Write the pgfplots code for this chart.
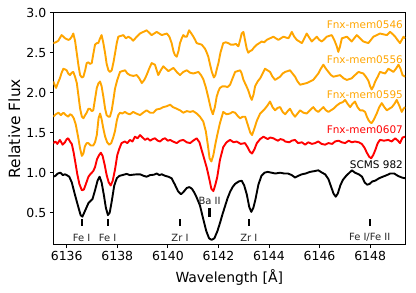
\documentclass[border=0pt]{standalone}
\usepackage{pgfplots}
\pgfplotsset{compat=1.18}
\usepackage{fontspec}
\setmainfont{DejaVu Sans}
\definecolor{mplorange}{HTML}{FFA500}
\definecolor{mplred}{HTML}{FF0000}
\begin{document}
\begin{tikzpicture}
\useasboundingbox (-53.3bp,-48.3bp) rectangle (362.7bp,244.7bp);
\begin{axis}[
  at={(0,0)}, anchor=south west,
  scale only axis, width=352bp, height=232bp,
  xmin=6135.47, xmax=6149.39, ymin=0.1, ymax=3.0,
  xtick={6136,6138,6140,6142,6144,6146,6148},
  ytick={0.5,1,1.5,2,2.5,3},
  tick pos=left, tick align=outside,
  major tick length=3.5bp,
  axis line style={black, line width=0.8bp},
  tick style={black, line width=0.8bp},
  /pgf/number format/assume math mode=true,
  yticklabel style={/pgf/number format/fixed,/pgf/number format/fixed zerofill,/pgf/number format/precision=1},
  xticklabel style={/pgf/number format/1000 sep={}},
  ticklabel style={font=\fontsize{12.5}{14}\selectfont},
  xlabel={Wavelength [Å]}, ylabel={Relative Flux},
  xlabel style={font=\fontsize{14}{16}\selectfont, at={(axis description cs:0.5,-0.1397)}, anchor=center},
  ylabel style={font=\fontsize{15.5}{17}\selectfont, at={(axis description cs:-0.1108,0.5)}, anchor=center},
  every axis plot/.append style={line width=1.9bp, line join=round},
]
% Fnx-mem0546
\addplot[mplorange] coordinates {(6135.47,2.62) (6135.57,2.63) (6135.67,2.65) (6135.74,2.69) (6135.80,2.72) (6135.87,2.70) (6135.94,2.68) (6136.00,2.67) (6136.07,2.66) (6136.13,2.67) (6136.20,2.70) (6136.26,2.74) (6136.33,2.65) (6136.40,2.49) (6136.47,2.33) (6136.53,2.22) (6136.60,2.19) (6136.66,2.20) (6136.73,2.28) (6136.79,2.37) (6136.86,2.38) (6136.92,2.36) (6136.99,2.37) (6137.05,2.48) (6137.12,2.60) (6137.19,2.62) (6137.25,2.62) (6137.32,2.68) (6137.38,2.72) (6137.45,2.62) (6137.52,2.49) (6137.58,2.36) (6137.65,2.28) (6137.71,2.26) (6137.78,2.28) (6137.85,2.38) (6137.91,2.49) (6137.98,2.62) (6138.04,2.70) (6138.14,2.71) (6138.24,2.72) (6138.34,2.68) (6138.44,2.70) (6138.54,2.68) (6138.63,2.65) (6138.77,2.70) (6138.90,2.74) (6139.03,2.76) (6139.16,2.78) (6139.26,2.75) (6139.36,2.72) (6139.46,2.74) (6139.56,2.76) (6139.66,2.74) (6139.76,2.72) (6139.86,2.73) (6139.96,2.74) (6140.06,2.70) (6140.15,2.62) (6140.22,2.52) (6140.28,2.47) (6140.35,2.45) (6140.42,2.52) (6140.48,2.62) (6140.55,2.68) (6140.61,2.72) (6140.68,2.70) (6140.75,2.70) (6140.84,2.78) (6140.93,2.74) (6141.01,2.70) (6141.08,2.66) (6141.14,2.62) (6141.24,2.61) (6141.34,2.60) (6141.47,2.55) (6141.54,2.50) (6141.60,2.45) (6141.67,2.35) (6141.74,2.26) (6141.82,2.19) (6141.88,2.22) (6141.94,2.30) (6142.00,2.37) (6142.08,2.50) (6142.19,2.62) (6142.29,2.63) (6142.39,2.62) (6142.49,2.60) (6142.59,2.60) (6142.69,2.61) (6142.79,2.58) (6142.86,2.66) (6142.92,2.74) (6142.99,2.76) (6143.05,2.66) (6143.12,2.55) (6143.18,2.50) (6143.25,2.52) (6143.32,2.53) (6143.42,2.57) (6143.52,2.60) (6143.62,2.62) (6143.71,2.64) (6143.81,2.63) (6143.91,2.66) (6144.04,2.68) (6144.17,2.70) (6144.27,2.68) (6144.37,2.66) (6144.47,2.68) (6144.57,2.70) (6144.67,2.69) (6144.77,2.68) (6144.84,2.72) (6144.90,2.76) (6145.00,2.70) (6145.10,2.66) (6145.20,2.64) (6145.30,2.62) (6145.40,2.68) (6145.49,2.74) (6145.59,2.69) (6145.69,2.64) (6145.79,2.67) (6145.89,2.70) (6145.99,2.66) (6146.09,2.64) (6146.19,2.67) (6146.28,2.70) (6146.38,2.71) (6146.48,2.72) (6146.58,2.66) (6146.68,2.58) (6146.74,2.51) (6146.81,2.58) (6146.88,2.68) (6146.98,2.69) (6147.08,2.70) (6147.18,2.67) (6147.27,2.64) (6147.37,2.68) (6147.47,2.72) (6147.60,2.68) (6147.73,2.64) (6147.83,2.63) (6147.93,2.62) (6148.03,2.66) (6148.13,2.70) (6148.26,2.72) (6148.39,2.74) (6148.52,2.73) (6148.66,2.72) (6148.79,2.76) (6148.90,2.73) (6148.99,2.70) (6149.08,2.66) (6149.18,2.62) (6149.25,2.66) (6149.32,2.70) (6149.38,2.68)};
% Fnx-mem0556
\addplot[mplorange] coordinates {(6135.47,2.14) (6135.52,2.10) (6135.58,2.06) (6135.65,2.12) (6135.73,2.18) (6135.80,2.25) (6135.87,2.30) (6135.94,2.29) (6136.00,2.28) (6136.06,2.24) (6136.13,2.22) (6136.20,2.25) (6136.26,2.26) (6136.33,2.20) (6136.40,2.12) (6136.47,1.95) (6136.53,1.80) (6136.60,1.70) (6136.66,1.68) (6136.73,1.72) (6136.79,1.75) (6136.86,1.80) (6136.92,1.80) (6136.99,1.77) (6137.05,1.78) (6137.12,1.92) (6137.19,2.06) (6137.26,2.12) (6137.32,2.14) (6137.38,2.08) (6137.45,1.95) (6137.52,1.80) (6137.58,1.72) (6137.65,1.70) (6137.71,1.70) (6137.78,1.78) (6137.85,1.92) (6137.91,2.05) (6138.00,2.16) (6138.11,2.26) (6138.20,2.27) (6138.31,2.28) (6138.40,2.24) (6138.50,2.22) (6138.63,2.21) (6138.77,2.22) (6138.87,2.18) (6138.97,2.12) (6139.07,2.16) (6139.16,2.22) (6139.26,2.30) (6139.36,2.37) (6139.49,2.35) (6139.56,2.28) (6139.62,2.22) (6139.72,2.28) (6139.82,2.33) (6139.92,2.30) (6140.02,2.27) (6140.12,2.29) (6140.22,2.31) (6140.35,2.26) (6140.48,2.22) (6140.61,2.26) (6140.75,2.28) (6140.88,2.25) (6141.01,2.24) (6141.11,2.25) (6141.21,2.26) (6141.31,2.22) (6141.40,2.17) (6141.50,2.07) (6141.60,1.94) (6141.70,1.80) (6141.78,1.73) (6141.86,1.82) (6141.93,1.95) (6142.00,2.02) (6142.06,2.06) (6142.16,2.08) (6142.26,2.08) (6142.36,2.07) (6142.46,2.10) (6142.56,2.18) (6142.66,2.26) (6142.76,2.27) (6142.86,2.28) (6142.92,2.24) (6142.99,2.16) (6143.08,2.10) (6143.18,2.03) (6143.26,1.95) (6143.32,1.91) (6143.39,1.98) (6143.45,2.08) (6143.55,2.14) (6143.65,2.18) (6143.75,2.24) (6143.84,2.30) (6143.94,2.28) (6144.04,2.26) (6144.14,2.20) (6144.24,2.16) (6144.34,2.18) (6144.44,2.20) (6144.54,2.24) (6144.64,2.26) (6144.74,2.27) (6144.83,2.28) (6144.93,2.24) (6145.03,2.20) (6145.13,2.14) (6145.23,2.10) (6145.36,2.11) (6145.49,2.12) (6145.62,2.14) (6145.75,2.16) (6145.85,2.20) (6145.95,2.24) (6146.05,2.30) (6146.15,2.35) (6146.25,2.30) (6146.35,2.26) (6146.45,2.22) (6146.55,2.20) (6146.68,2.21) (6146.81,2.22) (6146.95,2.18) (6147.08,2.16) (6147.18,2.17) (6147.27,2.18) (6147.40,2.22) (6147.54,2.26) (6147.63,2.25) (6147.73,2.24) (6147.83,2.20) (6147.93,2.15) (6148.00,2.08) (6148.06,2.04) (6148.13,2.08) (6148.20,2.14) (6148.30,2.20) (6148.39,2.26) (6148.49,2.25) (6148.59,2.24) (6148.66,2.27) (6148.72,2.30) (6148.82,2.28) (6148.92,2.26) (6149.02,2.30) (6149.12,2.35) (6149.20,2.30) (6149.28,2.22) (6149.38,2.20)};
% Fnx-mem0595
\addplot[mplorange] coordinates {(6135.47,1.70) (6135.57,1.73) (6135.67,1.75) (6135.77,1.72) (6135.87,1.75) (6135.97,1.72) (6136.06,1.70) (6136.13,1.73) (6136.20,1.72) (6136.28,1.68) (6136.36,1.60) (6136.45,1.45) (6136.53,1.30) (6136.60,1.21) (6136.66,1.24) (6136.72,1.33) (6136.79,1.37) (6136.86,1.37) (6136.95,1.34) (6137.05,1.34) (6137.12,1.38) (6137.19,1.47) (6137.26,1.68) (6137.32,1.74) (6137.38,1.67) (6137.45,1.55) (6137.52,1.45) (6137.60,1.38) (6137.68,1.35) (6137.76,1.37) (6137.84,1.44) (6137.91,1.52) (6137.98,1.65) (6138.04,1.72) (6138.11,1.75) (6138.20,1.74) (6138.30,1.76) (6138.40,1.74) (6138.50,1.73) (6138.63,1.76) (6138.75,1.74) (6138.90,1.72) (6139.02,1.75) (6139.16,1.78) (6139.30,1.75) (6139.43,1.75) (6139.55,1.79) (6139.70,1.80) (6139.82,1.82) (6139.95,1.83) (6140.09,1.85) (6140.20,1.82) (6140.35,1.80) (6140.48,1.78) (6140.61,1.75) (6140.75,1.77) (6140.88,1.76) (6141.00,1.77) (6141.14,1.74) (6141.27,1.70) (6141.40,1.64) (6141.50,1.52) (6141.58,1.35) (6141.65,1.18) (6141.72,1.14) (6141.80,1.22) (6141.88,1.36) (6141.96,1.48) (6142.06,1.62) (6142.19,1.76) (6142.32,1.73) (6142.46,1.74) (6142.56,1.76) (6142.66,1.75) (6142.76,1.71) (6142.86,1.68) (6142.96,1.70) (6143.06,1.70) (6143.16,1.60) (6143.26,1.50) (6143.33,1.47) (6143.42,1.55) (6143.52,1.65) (6143.65,1.74) (6143.75,1.77) (6143.84,1.80) (6143.94,1.84) (6144.04,1.89) (6144.14,1.82) (6144.24,1.78) (6144.34,1.81) (6144.44,1.82) (6144.54,1.76) (6144.64,1.73) (6144.74,1.77) (6144.83,1.80) (6144.93,1.74) (6145.03,1.70) (6145.13,1.74) (6145.23,1.78) (6145.36,1.75) (6145.49,1.74) (6145.62,1.78) (6145.75,1.82) (6145.85,1.78) (6145.95,1.76) (6146.05,1.79) (6146.15,1.82) (6146.25,1.78) (6146.35,1.76) (6146.45,1.78) (6146.55,1.80) (6146.68,1.84) (6146.81,1.87) (6146.91,1.88) (6147.01,1.91) (6147.11,1.86) (6147.21,1.82) (6147.30,1.86) (6147.40,1.89) (6147.50,1.82) (6147.60,1.78) (6147.70,1.78) (6147.80,1.76) (6147.87,1.70) (6147.93,1.66) (6148.00,1.63) (6148.06,1.62) (6148.14,1.66) (6148.26,1.74) (6148.36,1.82) (6148.46,1.87) (6148.56,1.82) (6148.66,1.78) (6148.76,1.80) (6148.86,1.82) (6148.96,1.86) (6149.05,1.91) (6149.15,1.84) (6149.25,1.76) (6149.32,1.80) (6149.38,1.82)};
% Fnx-mem0607
\addplot[mplred] coordinates {(6135.47,1.37) (6135.55,1.39) (6135.63,1.36) (6135.73,1.41) (6135.84,1.35) (6135.93,1.38) (6136.00,1.42) (6136.06,1.43) (6136.13,1.39) (6136.20,1.36) (6136.27,1.26) (6136.33,1.15) (6136.42,0.98) (6136.50,0.86) (6136.60,0.78) (6136.68,0.79) (6136.76,0.86) (6136.86,0.95) (6136.93,0.98) (6136.99,1.00) (6137.05,1.02) (6137.12,1.07) (6137.20,1.17) (6137.28,1.22) (6137.35,1.25) (6137.42,1.21) (6137.50,1.10) (6137.58,0.97) (6137.66,0.88) (6137.74,0.84) (6137.82,0.90) (6137.91,1.04) (6138.00,1.22) (6138.08,1.30) (6138.17,1.37) (6138.30,1.39) (6138.40,1.37) (6138.50,1.41) (6138.60,1.39) (6138.70,1.45) (6138.80,1.43) (6138.90,1.47) (6139.00,1.44) (6139.10,1.41) (6139.20,1.43) (6139.30,1.40) (6139.40,1.42) (6139.49,1.43) (6139.60,1.40) (6139.69,1.39) (6139.80,1.42) (6139.89,1.43) (6140.00,1.40) (6140.09,1.41) (6140.20,1.39) (6140.35,1.37) (6140.48,1.40) (6140.61,1.41) (6140.75,1.38) (6140.88,1.37) (6141.00,1.40) (6141.14,1.43) (6141.25,1.38) (6141.34,1.28) (6141.45,1.16) (6141.54,1.06) (6141.64,0.92) (6141.72,0.80) (6141.80,0.77) (6141.87,0.84) (6141.95,0.94) (6142.06,1.16) (6142.19,1.32) (6142.32,1.38) (6142.46,1.41) (6142.60,1.38) (6142.72,1.39) (6142.88,1.36) (6143.05,1.37) (6143.15,1.32) (6143.25,1.26) (6143.33,1.24) (6143.42,1.29) (6143.52,1.37) (6143.65,1.42) (6143.78,1.45) (6143.95,1.42) (6144.05,1.44) (6144.17,1.43) (6144.35,1.40) (6144.45,1.42) (6144.57,1.41) (6144.64,1.39) (6144.80,1.38) (6144.90,1.40) (6145.03,1.41) (6145.15,1.37) (6145.30,1.38) (6145.43,1.35) (6145.55,1.38) (6145.70,1.36) (6145.82,1.37) (6145.95,1.39) (6146.08,1.36) (6146.22,1.35) (6146.35,1.37) (6146.50,1.36) (6146.61,1.39) (6146.75,1.40) (6146.88,1.38) (6147.01,1.37) (6147.15,1.40) (6147.28,1.38) (6147.40,1.39) (6147.55,1.38) (6147.67,1.36) (6147.78,1.31) (6147.87,1.25) (6147.96,1.20) (6148.04,1.18) (6148.12,1.22) (6148.20,1.28) (6148.30,1.37) (6148.39,1.41) (6148.55,1.40) (6148.72,1.41) (6148.85,1.39) (6148.99,1.43) (6149.10,1.40) (6149.18,1.37) (6149.28,1.44) (6149.38,1.45)};
% SCMS 982
\addplot[black] coordinates {(6135.47,0.95) (6135.55,0.96) (6135.65,0.99) (6135.75,1.00) (6135.85,0.97) (6135.93,0.98) (6136.00,0.97) (6136.10,0.95) (6136.20,0.88) (6136.33,0.72) (6136.46,0.57) (6136.55,0.47) (6136.62,0.45) (6136.72,0.52) (6136.86,0.62) (6136.95,0.65) (6137.02,0.67) (6137.12,0.78) (6137.22,0.90) (6137.30,0.95) (6137.38,0.88) (6137.47,0.72) (6137.55,0.56) (6137.63,0.47) (6137.70,0.50) (6137.78,0.64) (6137.88,0.84) (6137.98,0.93) (6138.08,0.96) (6138.20,0.97) (6138.37,0.985) (6138.50,0.97) (6138.63,0.975) (6138.78,0.98) (6138.90,0.98) (6139.05,0.96) (6139.16,0.95) (6139.30,0.97) (6139.45,0.975) (6139.56,0.99) (6139.66,0.97) (6139.76,0.98) (6139.90,0.96) (6140.02,0.95) (6140.15,0.93) (6140.28,0.85) (6140.40,0.77) (6140.52,0.73) (6140.62,0.76) (6140.75,0.81) (6140.85,0.82) (6140.95,0.80) (6141.05,0.75) (6141.14,0.69) (6141.27,0.59) (6141.40,0.42) (6141.52,0.27) (6141.63,0.18) (6141.73,0.16) (6141.84,0.18) (6141.96,0.27) (6142.06,0.37) (6142.16,0.48) (6142.26,0.58) (6142.36,0.68) (6142.46,0.76) (6142.56,0.82) (6142.66,0.86) (6142.80,0.89) (6142.92,0.90) (6143.02,0.84) (6143.12,0.73) (6143.22,0.57) (6143.30,0.51) (6143.38,0.56) (6143.46,0.66) (6143.58,0.85) (6143.70,0.96) (6143.82,1.00) (6143.95,1.01) (6144.10,1.00) (6144.25,0.99) (6144.44,1.00) (6144.60,0.99) (6144.75,0.99) (6144.90,0.97) (6145.03,0.94) (6145.15,0.96) (6145.30,0.98) (6145.45,0.99) (6145.62,1.01) (6145.80,1.02) (6145.95,1.03) (6146.10,1.00) (6146.22,0.98) (6146.35,0.92) (6146.45,0.83) (6146.55,0.74) (6146.64,0.70) (6146.72,0.74) (6146.82,0.84) (6146.92,0.91) (6147.05,0.96) (6147.18,1.00) (6147.28,1.03) (6147.40,1.00) (6147.55,0.98) (6147.68,0.95) (6147.78,0.88) (6147.88,0.85) (6147.98,0.86) (6148.08,0.89) (6148.20,0.90) (6148.35,0.93) (6148.50,0.95) (6148.66,0.97) (6148.80,0.99) (6148.95,0.99) (6149.10,0.96) (6149.25,0.94) (6149.38,0.93)};
% line markers
\addplot[black, line width=2.2bp] coordinates {(6136.59,0.42) (6136.59,0.33)};
\addplot[black, line width=2.2bp] coordinates {(6137.62,0.42) (6137.62,0.33)};
\addplot[black, line width=2.2bp] coordinates {(6140.48,0.42) (6140.48,0.33)};
\addplot[black, line width=2.2bp] coordinates {(6141.65,0.56) (6141.65,0.45)};
\addplot[black, line width=2.2bp] coordinates {(6143.20,0.42) (6143.20,0.33)};
\addplot[black, line width=2.2bp] coordinates {(6147.98,0.42) (6147.98,0.33)};
\begin{scope}[every node/.style={font=\fontsize{10}{11}\selectfont, inner sep=0pt, text=black!85}]
\node at (axis cs:6136.59,0.19) {Fe I};
\node at (axis cs:6137.62,0.19) {Fe I};
\node at (axis cs:6140.48,0.19) {Zr I};
\node at (axis cs:6141.65,0.645) {Ba II};
\node at (axis cs:6143.20,0.19) {Zr I};
\node at (axis cs:6147.98,0.19) {Fe I/Fe II};
\end{scope}
\begin{scope}[every node/.style={font=\fontsize{10.5}{12}\selectfont, inner sep=0pt, anchor=east}]
\node[text=mplorange] at (axis cs:6149.30,2.846) {Fnx-mem0546};
\node[text=mplorange] at (axis cs:6149.30,2.41) {Fnx-mem0556};
\node[text=mplorange] at (axis cs:6149.30,1.97) {Fnx-mem0595};
\node[text=mplred] at (axis cs:6149.30,1.54) {Fnx-mem0607};
\node[text=black] at (axis cs:6149.30,1.096) {SCMS 982};
\end{scope}
\end{axis}
\end{tikzpicture}
\end{document}
